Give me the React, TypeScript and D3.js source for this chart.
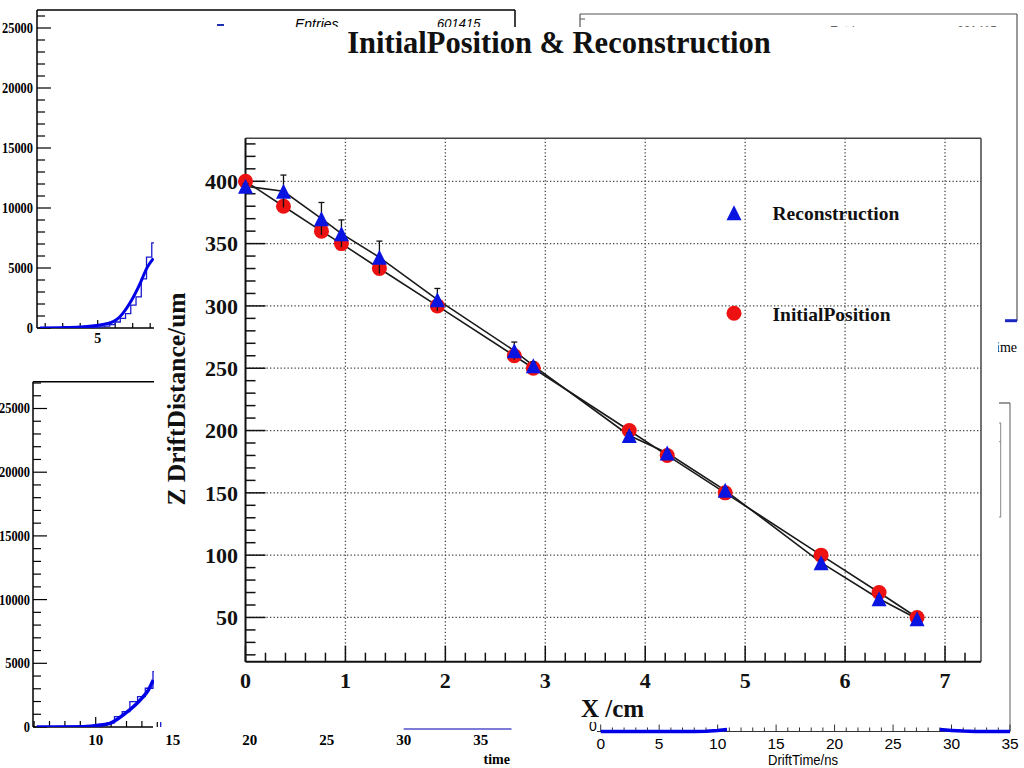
import React from 'react';
import * as d3 from 'd3';

// ---------- Main chart data ----------
const xPositions = [0, 0.38, 0.76, 0.96, 1.34, 1.92, 2.69, 2.88, 3.84, 4.22, 4.8, 5.76, 6.34, 6.72];
const initialZ = [400, 380, 360, 350, 330, 300, 260, 250, 200, 180, 150, 100, 70, 50];
const reconZ = [396, 392, 370, 358, 339, 305, 264, 252, 196, 182, 152, 94, 65, 49];
const reconErr = [2, 13, 13, 11, 13, 9, 7, 3, 2, 2, 2, 2, 2, 1];
const xTickValues = [0, 1, 2, 3, 4, 5, 6, 7];
const yTickValues = [50, 100, 150, 200, 250, 300, 350, 400];
const titleText = 'InitialPosition & Reconstruction';
const legendLabels = ['Reconstruction', 'InitialPosition'];
const xTitle = 'X /cm';
const yTitle = 'Z DriftDistance/um';

// ---------- Background panels (partly hidden) ----------
const tlYLabels = [0, 5000, 10000, 15000, 20000, 25000];
const tlXLabels = [5];
const tlHistStart = 2.09;
const tlBinWidth = 0.3;
const tlHist = [0, 1, 2, 3, 5, 10, 15, 25, 40, 60, 100, 160, 280, 500, 800, 1200, 1900, 2600, 4100, 5900, 7100];
const tlCurveX = [1.7, 2.85, 3.99, 5.13, 5.89, 6.27, 6.85, 7.42, 7.8, 8.18];
const tlCurveY = [10, 30, 80, 250, 530, 940, 2100, 3700, 4970, 5800];

const blYLabels = [0, 5000, 10000, 15000, 20000, 25000];
const blXLabels = [10, 15, 20, 25, 30, 35];
const blHistStart = 6.22;
const blBinWidth = 0.5;
const blHist = [0, 2, 4, 6, 10, 16, 30, 60, 150, 330, 810, 1200, 1990, 2380, 3040, 4340];
const blCurveX = [6.17, 9.19, 10.28, 10.93, 11.92, 12.99, 13.42, 13.74];
const blCurveY = [0, 20, 150, 290, 1070, 2250, 2900, 3690];
const blTailX = [30, 37];
const blTailY = [-150, -150];

const brXLabels = [0, 5, 10, 15, 20, 25, 30, 35];
const brLeftX = [0, 2, 4, 6, 8, 9, 10, 10.8];
const brLeftY = [0, 0, 0, 0, 0, 30, 100, 180];
const brRightX = [29, 30, 31, 32, 33, 34, 35];
const brRightY = [180, 100, 40, 10, 0, 0, 0];
const trTailX = [34, 35];
const trTailY = [0, 0];

const SERIF = '"Liberation Serif", "Times New Roman", Times, serif';
const SANS = '"Liberation Sans", Arial, Helvetica, sans-serif';
const BLUE = '#0000e6';

function stepPath(start: number, w: number, vals: number[], sx: any, sy: any) {
  let p = `M${sx(start)},${sy(0)}`;
  vals.forEach((v, i) => {
    p += `V${sy(v)}H${sx(start + (i + 1) * w)}`;
  });
  p += `V${sy(0)}`;
  return p;
}

export default function App() {
  // main scales
  const mx = d3.scaleLinear().domain([0, 7.36]).range([245.5, 981]);
  const my = d3.scaleLinear().domain([14.5, 434.5]).range([661.7, 138.3]);
  const L = mx(0), R = mx(7.36), B = my(14.5), T = my(434.5);

  // background scales
  const tlx = d3.scaleLinear().domain([5, 6]).range([97.7, 115.2]);
  const tly = d3.scaleLinear().domain([0, 5000]).range([328, 268]);
  const blx = d3.scaleLinear().domain([10, 15]).range([95.7, 172.7]);
  const bly = d3.scaleLinear().domain([0, 5000]).range([727, 663.3]);
  const brx = d3.scaleLinear().domain([0, 35]).range([600.7, 1010]);
  const bry = d3.scaleLinear().domain([0, 1000]).range([731.5, 720.5]);
  const trx = d3.scaleLinear().domain([0, 35]).range([598, 1017]);
  const trY = d3.scaleLinear().domain([0, 1000]).range([320.7, 309.7]);

  const curve = (xs: number[], ys: number[], sx: any, sy: any) =>
    d3.line<number>().x((_, i) => sx(xs[i])).y((_, i) => sy(ys[i])).curve(d3.curveMonotoneX)(xs) || '';
  const straight = (xs: number[], ys: number[], sx: any, sy: any) =>
    d3.line<number>().x((_, i) => sx(xs[i])).y((_, i) => sy(ys[i]))(xs) || '';

  const tlYTicks = d3.range(0, 26001, 1000);
  const tlXTicks = d3.range(2, 9, 1);
  const blYTicks = d3.range(0, 27001, 1000);
  const blXTicks = d3.range(6, 15, 1);
  const brXTicks = d3.range(0, 36, 1);

  const xMinor = d3.range(0, 7.3, 0.2);
  const yMinor = d3.range(20, 431, 10);

  const redLine = straight(xPositions, initialZ, mx, my);
  const blueLine = straight(xPositions, reconZ, mx, my);

  const tri = (s: number) => `M0,${-s}L${s},${s}L${-s},${s}Z`;

  return (
    <svg width={1024} height={768} style={{ position: 'absolute', left: 0, top: 0, background: '#fff' }}>
      <rect x={0} y={0} width={1024} height={768} fill="#fff" />
      <defs>
        <clipPath id="tlclip"><rect x={37} y={10} width={478} height={318} /></clipPath>
        <clipPath id="blclip"><rect x={33} y={381} width={480} height={346} /></clipPath>
      </defs>

      {/* ===== Top-left background panel ===== */}
      <g>
        <line x1={37} y1={10} x2={515} y2={10} stroke="#000" strokeWidth={1.5} />
        <line x1={515} y1={10} x2={515} y2={328} stroke="#000" strokeWidth={1.5} />
        <line x1={37} y1={10} x2={37} y2={328} stroke="#000" strokeWidth={1.5} />
        <line x1={37} y1={328} x2={515} y2={328} stroke="#000" strokeWidth={1.5} />
        {tlYTicks.map((v) => (
          <line key={'tly' + v} x1={37} x2={37 + (v % 5000 === 0 ? 14 : 8)} y1={tly(v)} y2={tly(v)} stroke="#000" strokeWidth={1.2} />
        ))}
        {tlXTicks.map((v) => (
          <line key={'tlx' + v} x1={tlx(v)} x2={tlx(v)} y1={328} y2={328 - (v % 5 === 0 ? 8 : 5)} stroke="#000" strokeWidth={1.2} />
        ))}
        {tlYLabels.map((v) => (
          <text key={'tlyl' + v} x={33} y={tly(v)} dy="0.35em" textAnchor="end" fontFamily={SERIF} fontWeight="bold" fontSize={14} textLength={String(v).length * 6.2} lengthAdjust="spacingAndGlyphs">{v}</text>
        ))}
        {tlXLabels.map((v) => (
          <text key={'tlxl' + v} x={tlx(v)} y={343} textAnchor="middle" fontFamily={SERIF} fontWeight="bold" fontSize={14}>{v}</text>
        ))}
        <g clipPath="url(#tlclip)">
          <path d={stepPath(tlHistStart, tlBinWidth, tlHist, tlx, tly)} fill="none" stroke="#1a1ad0" strokeWidth={1.3} />
          <path d={curve(tlCurveX, tlCurveY, tlx, tly)} fill="none" stroke={BLUE} strokeWidth={3} />
        </g>
        <line x1={217} x2={224} y1={25} y2={25} stroke="#2030b0" strokeWidth={2} />
        <text x={295} y={29} fontFamily={SANS} fontStyle="italic" fontSize={14}>Entries</text>
        <text x={437} y={28} fontFamily={SANS} fontStyle="italic" fontSize={13}>601415</text>
      </g>

      {/* ===== Top-right background panel ===== */}
      <g>
        <line x1={580} y1={14} x2={1017} y2={14} stroke="#555" strokeWidth={1.2} />
        <line x1={580} y1={14} x2={580} y2={300} stroke="#555" strokeWidth={1.2} />
        <line x1={1017} y1={14} x2={1017} y2={321} stroke="#555" strokeWidth={1.2} />
        <line x1={580} y1={19} x2={585} y2={19} stroke="#555" strokeWidth={1} />
        <text x={830} y={35} fontFamily={SANS} fontSize={12} fill="#666">Entries</text>
        <text x={997} y={35} textAnchor="end" fontFamily={SANS} fontSize={12} fill="#666">601415</text>
        <path d={straight(trTailX, trTailY, trx, trY)} stroke="#1a28c0" strokeWidth={3} fill="none" />
        <text x={1017} y={352} textAnchor="end" fontFamily={SERIF} fontSize={14}>time</text>
      </g>

      {/* ===== Bottom-left background panel ===== */}
      <g>
        <line x1={33} y1={381.7} x2={515} y2={381.7} stroke="#000" strokeWidth={1.5} />
        <line x1={33} y1={381.7} x2={33} y2={727} stroke="#000" strokeWidth={1.5} />
        <line x1={33} y1={727} x2={153} y2={727} stroke="#000" strokeWidth={1.5} />
        {blYTicks.map((v) => (
          <line key={'bly' + v} x1={33} x2={33 + (v % 5000 === 0 ? 14 : 8)} y1={bly(v)} y2={bly(v)} stroke="#000" strokeWidth={1.2} />
        ))}
        {blXTicks.map((v) => (
          <line key={'blx' + v} x1={blx(v)} x2={blx(v)} y1={727} y2={727 - (v % 5 === 0 ? 10 : 6)} stroke="#000" strokeWidth={1.2} />
        ))}
        {blYLabels.map((v) => (
          <text key={'blyl' + v} x={30} y={bly(v)} dy="0.35em" textAnchor="end" fontFamily={SERIF} fontWeight="bold" fontSize={14} textLength={String(v).length * 6.2} lengthAdjust="spacingAndGlyphs">{v}</text>
        ))}
        {blXLabels.map((v) => (
          <text key={'blxl' + v} x={blx(v)} y={745} textAnchor="middle" fontFamily={SERIF} fontWeight="bold" fontSize={15}>{v}</text>
        ))}
        <text x={510} y={764} textAnchor="end" fontFamily={SERIF} fontWeight="bold" fontSize={14}>time</text>
        <g clipPath="url(#blclip)">
          <path d={stepPath(blHistStart, blBinWidth, blHist, blx, bly)} fill="none" stroke="#1a1ad0" strokeWidth={1.3} />
          <path d={curve(blCurveX, blCurveY, blx, bly)} fill="none" stroke={BLUE} strokeWidth={3.5} />
        </g>
        <path d={straight(blTailX, blTailY, blx, bly)} stroke="#5050c8" strokeWidth={1.5} fill="none" />
      </g>

      {/* ===== Bottom-right background panel ===== */}
      <g>
        <line x1={597} y1={731.5} x2={1010} y2={731.5} stroke="#333" strokeWidth={1.2} />
        <line x1={1010} y1={403} x2={1010} y2={731.5} stroke="#777" strokeWidth={1.2} />
        <line x1={999} y1={403} x2={1010} y2={403} stroke="#555" strokeWidth={1.2} />
        <line x1={1000.7} y1={423} x2={1000.7} y2={517} stroke="#888" strokeWidth={1} />
        <line x1={999} y1={423} x2={1001} y2={423} stroke="#888" strokeWidth={1} />
        <line x1={999} y1={441.7} x2={1001} y2={441.7} stroke="#888" strokeWidth={1} />
        <line x1={999} y1={517} x2={1001} y2={517} stroke="#888" strokeWidth={1} />
        {brXTicks.map((v) => (
          <line key={'brx' + v} x1={brx(v)} x2={brx(v)} y1={731.5} y2={731.5 - (v % 5 === 0 ? 7 : 4)} stroke="#333" strokeWidth={1} />
        ))}
        <path d={straight(brLeftX, brLeftY, brx, bry)} stroke={BLUE} strokeWidth={3.5} fill="none" />
        <path d={straight(brRightX, brRightY, brx, bry)} stroke={BLUE} strokeWidth={3.5} fill="none" />
        {brXLabels.map((v) => (
          <text key={'brxl' + v} x={brx(v)} y={749} textAnchor="middle" fontFamily={SANS} fontSize={15.5}>{v}</text>
        ))}
        <text x={593} y={731} textAnchor="middle" fontFamily={SANS} fontSize={14}>0</text>
        <text x={803} y={765} textAnchor="middle" fontFamily={SANS} fontSize={15} textLength={70} lengthAdjust="spacingAndGlyphs">DriftTime/ns</text>
      </g>

      {/* ===== Main canvas ===== */}
      <rect x={154} y={27} width={844} height={695} fill="#fff" />

      <text x={559} y={53} textAnchor="middle" fontFamily={SERIF} fontWeight="bold" fontSize={30.5} fill="#111">{titleText}</text>

      {/* grid */}
      {xTickValues.filter((v) => v > 0).map((v) => (
        <line key={'gx' + v} x1={mx(v)} x2={mx(v)} y1={T} y2={B} stroke="#444" strokeWidth={1.3} strokeDasharray="1.3,2.2" />
      ))}
      {yTickValues.map((v) => (
        <line key={'gy' + v} x1={L} x2={R} y1={my(v)} y2={my(v)} stroke="#444" strokeWidth={1.3} strokeDasharray="1.3,2.2" />
      ))}

      {/* frame */}
      <line x1={L} y1={T} x2={R} y2={T} stroke="#444" strokeWidth={1.5} />
      <line x1={R} y1={T} x2={R} y2={B} stroke="#444" strokeWidth={1.5} />
      <line x1={L} y1={T} x2={L} y2={B} stroke="#111" strokeWidth={2} />
      <line x1={L} y1={B} x2={R} y2={B} stroke="#111" strokeWidth={2} />

      {/* ticks */}
      {yMinor.map((v) => (
        <line key={'ty' + v} x1={L} x2={L + (v % 50 === 0 ? 20 : 10)} y1={my(v)} y2={my(v)} stroke="#111" strokeWidth={1.5} />
      ))}
      {xMinor.map((v, i) => (
        <line key={'tx' + i} x1={mx(v)} x2={mx(v)} y1={B} y2={B - (i % 5 === 0 ? 16 : 9)} stroke="#111" strokeWidth={1.5} />
      ))}

      {/* tick labels */}
      {yTickValues.map((v) => (
        <text key={'yl' + v} x={238} y={my(v)} dy="0.35em" textAnchor="end" fontFamily={SERIF} fontWeight="bold" fontSize={22} fill="#111">{v}</text>
      ))}
      {xTickValues.map((v) => (
        <text key={'xl' + v} x={mx(v)} y={688} textAnchor="middle" fontFamily={SERIF} fontWeight="bold" fontSize={22} fill="#111">{v}</text>
      ))}

      {/* axis titles */}
      <text x={581} y={717} fontFamily={SERIF} fontWeight="bold" fontSize={25} fill="#111">{xTitle}</text>
      <text transform="translate(185,399) rotate(-90)" textAnchor="middle" fontFamily={SERIF} fontWeight="bold" fontSize={25.5} fill="#111">{yTitle}</text>

      {/* connecting lines */}
      <path d={redLine} fill="none" stroke="#1a1a1a" strokeWidth={1.6} />
      <path d={blueLine} fill="none" stroke="#1a1a1a" strokeWidth={1.6} />

      {/* InitialPosition markers */}
      {xPositions.map((x, i) => (
        <circle key={'r' + i} cx={mx(x)} cy={my(initialZ[i])} r={7.5} fill="#ee1111" />
      ))}

      {/* error bars */}
      {xPositions.map((x, i) => (
        <g key={'e' + i} stroke="#111" strokeWidth={1.3}>
          <line x1={mx(x)} x2={mx(x)} y1={my(reconZ[i] + reconErr[i])} y2={my(reconZ[i] - reconErr[i])} />
          <line x1={mx(x) - 3} x2={mx(x) + 3} y1={my(reconZ[i] + reconErr[i])} y2={my(reconZ[i] + reconErr[i])} />
        </g>
      ))}

      {/* Reconstruction markers */}
      {xPositions.map((x, i) => (
        <path key={'b' + i} d={tri(7.5)} transform={`translate(${mx(x)},${my(reconZ[i])})`} fill="#0a14e0" />
      ))}

      {/* legend */}
      <path d={tri(7.5)} transform="translate(734,212.7)" fill="#0a14e0" />
      <text x={772.5} y={220} fontFamily={SERIF} fontWeight="bold" fontSize={19.5} fill="#111">{legendLabels[0]}</text>
      <circle cx={734} cy={313.3} r={7.5} fill="#ee1111" />
      <text x={772.5} y={320.7} fontFamily={SERIF} fontWeight="bold" fontSize={19.5} fill="#111">{legendLabels[1]}</text>
    </svg>
  );
}
